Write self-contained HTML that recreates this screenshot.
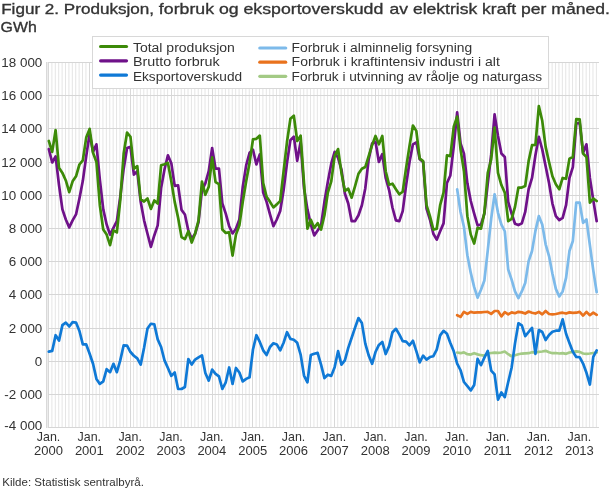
<!DOCTYPE html>
<html><head><meta charset="utf-8"><title>Figur 2</title>
<style>
html,body{margin:0;padding:0;background:#fff;}
body{width:610px;height:488px;position:relative;overflow:hidden;font-family:"Liberation Sans",sans-serif;}
.t{position:absolute;left:2px;top:0px;font-size:17.2px;line-height:18px;font-weight:bold;color:#333;white-space:nowrap;letter-spacing:-0.35px;}
.f{position:absolute;left:3px;top:472px;font-size:11.6px;color:#333;white-space:nowrap;}
svg text{font-family:"Liberation Sans",sans-serif;fill:#333;}
.lg{font-size:12.3px;}
.ax{font-size:13px;}
.ay{font-size:13.4px;}
.ti{font-size:14.5px;font-weight:normal;stroke:#333;stroke-width:0.32px;}
.ft{font-size:11px;}
</style></head><body>
<svg width="610" height="488" viewBox="0 0 610 488" style="position:absolute;left:0;top:0;will-change:transform"><path d="M51.90 62V428M55.31 62V428M58.71 62V428M62.11 62V428M65.52 62V428M68.92 62V428M72.32 62V428M75.72 62V428M79.13 62V428M82.53 62V428M85.93 62V428M92.74 62V428M96.14 62V428M99.55 62V428M102.95 62V428M106.35 62V428M109.75 62V428M113.16 62V428M116.56 62V428M119.96 62V428M123.37 62V428M126.77 62V428M133.57 62V428M136.98 62V428M140.38 62V428M143.78 62V428M147.19 62V428M150.59 62V428M153.99 62V428M157.40 62V428M160.80 62V428M164.20 62V428M167.60 62V428M174.41 62V428M177.81 62V428M181.22 62V428M184.62 62V428M188.02 62V428M191.43 62V428M194.83 62V428M198.23 62V428M201.63 62V428M205.04 62V428M208.44 62V428M215.25 62V428M218.65 62V428M222.05 62V428M225.46 62V428M228.86 62V428M232.26 62V428M235.66 62V428M239.07 62V428M242.47 62V428M245.87 62V428M249.28 62V428M256.08 62V428M259.49 62V428M262.89 62V428M266.29 62V428M269.69 62V428M273.10 62V428M276.50 62V428M279.90 62V428M283.31 62V428M286.71 62V428M290.11 62V428M296.92 62V428M300.32 62V428M303.72 62V428M307.13 62V428M310.53 62V428M313.93 62V428M317.34 62V428M320.74 62V428M324.14 62V428M327.55 62V428M330.95 62V428M337.75 62V428M341.16 62V428M344.56 62V428M347.96 62V428M351.37 62V428M354.77 62V428M358.17 62V428M361.58 62V428M364.98 62V428M368.38 62V428M371.79 62V428M378.59 62V428M381.99 62V428M385.40 62V428M388.80 62V428M392.20 62V428M395.61 62V428M399.01 62V428M402.41 62V428M405.81 62V428M409.22 62V428M412.62 62V428M419.43 62V428M422.83 62V428M426.23 62V428M429.64 62V428M433.04 62V428M436.44 62V428M439.85 62V428M443.25 62V428M446.65 62V428M450.05 62V428M453.46 62V428M460.26 62V428M463.67 62V428M467.07 62V428M470.47 62V428M473.88 62V428M477.28 62V428M480.68 62V428M484.08 62V428M487.49 62V428M490.89 62V428M494.29 62V428M501.10 62V428M504.50 62V428M507.91 62V428M511.31 62V428M514.71 62V428M518.11 62V428M521.52 62V428M524.92 62V428M528.32 62V428M531.73 62V428M535.13 62V428M541.94 62V428M545.34 62V428M548.74 62V428M552.14 62V428M555.55 62V428M558.95 62V428M562.35 62V428M565.76 62V428M569.16 62V428M572.56 62V428M575.97 62V428M582.77 62V428M586.17 62V428M589.58 62V428M592.98 62V428M596.38 62V428" stroke="#e5e5e5" stroke-width="1" fill="none"/><path d="M48.5 62V428M89.5 62V428M130.5 62V428M171.5 62V428M212.5 62V428M252.5 62V428M293.5 62V428M334.5 62V428M375.5 62V428M416.5 62V428M457.5 62V428M497.5 62V428M538.5 62V428M579.5 62V428" stroke="#d8d8d8" stroke-width="1" fill="none" shape-rendering="crispEdges"/><path d="M46 62.5H599.0M46 95.5H599.0M46 128.5H599.0M46 162.5H599.0M46 195.5H599.0M46 228.5H599.0M46 261.5H599.0M46 294.5H599.0M46 328.5H599.0M46 361.5H599.0M46 394.5H599.0M46 427.5H599.0" stroke="#d6d6d6" stroke-width="1" fill="none" shape-rendering="crispEdges"/><path d="M46.5 62V428" stroke="#d9d9d9" stroke-width="1" fill="none" shape-rendering="crispEdges"/><path d="M47.5 62V428" stroke="#ececec" stroke-width="1" fill="none" shape-rendering="crispEdges"/><path d="M457.16 352.52 L460.56 353.19 L463.97 352.35 L467.37 354.2 L470.77 354.54 L474.18 353.19 L477.58 354.37 L480.98 355.21 L484.38 355.55 L487.79 353.53 L491.19 353.03 L494.59 352.69 L498.0 352.86 L501.4 352.52 L504.8 351.51 L508.21 354.2 L511.61 356.22 L515.01 355.21 L518.41 354.2 L521.82 353.53 L525.22 353.36 L528.62 353.19 L532.03 352.18 L535.43 352.52 L538.83 351.85 L542.24 351.51 L545.64 350.84 L549.04 352.18 L552.44 353.19 L555.85 353.03 L559.25 353.53 L562.65 353.19 L566.06 353.87 L569.46 352.52 L572.86 351.85 L576.26 351.34 L579.67 351.85 L583.07 353.53 L586.47 353.87 L589.88 353.53 L593.28 353.03 L596.68 352.52" stroke="#a3ca85" stroke-width="2.7" fill="none" stroke-linejoin="round" stroke-linecap="round"/><path d="M457.16 315.21 L460.56 316.89 L463.97 311.85 L467.37 313.87 L470.77 311.85 L474.18 312.69 L477.58 312.35 L480.98 312.35 L484.38 312.02 L487.79 311.85 L491.19 313.87 L494.59 311.01 L498.0 311.01 L501.4 316.39 L504.8 312.18 L508.21 314.37 L511.61 312.35 L515.01 313.19 L518.41 311.85 L521.82 312.35 L525.22 313.53 L528.62 311.51 L532.03 312.69 L535.43 313.53 L538.83 311.85 L542.24 314.37 L545.64 311.01 L549.04 314.03 L552.44 314.37 L555.85 314.03 L559.25 313.19 L562.65 312.69 L566.06 313.53 L569.46 312.35 L572.86 312.86 L576.26 312.69 L579.67 311.85 L583.07 315.55 L586.47 311.85 L589.88 315.21 L593.28 312.69 L596.68 314.87" stroke="#e9721d" stroke-width="2.7" fill="none" stroke-linejoin="round" stroke-linecap="round"/><path d="M457.16 189.24 L460.56 211.93 L463.97 227.06 L467.37 255.25 L470.77 272.9 L474.18 287.18 L477.58 297.61 L480.98 289.71 L484.38 280.46 L487.79 250.21 L491.19 218.66 L494.59 194.29 L498.0 212.77 L501.4 224.54 L504.8 231.26 L508.21 269.54 L511.61 279.62 L515.01 291.39 L518.41 298.11 L521.82 291.39 L525.22 282.98 L528.62 261.13 L532.03 251.05 L535.43 230.88 L538.83 216.13 L542.24 224.54 L545.64 244.33 L549.04 256.09 L552.44 273.74 L555.85 288.87 L559.25 296.43 L562.65 291.39 L566.06 277.94 L569.46 251.05 L572.86 240.97 L576.26 202.69 L579.67 202.69 L583.07 222.86 L586.47 219.5 L589.88 245.17 L593.28 270.38 L596.68 292.23" stroke="#7dbaea" stroke-width="2.7" fill="none" stroke-linejoin="round" stroke-linecap="round"/><path d="M48.8 351.68 L52.2 350.84 L55.61 335.21 L59.01 340.59 L62.41 325.13 L65.81 322.61 L69.22 326.47 L72.62 322.1 L76.02 322.61 L79.43 331.01 L82.83 344.45 L86.23 344.45 L89.64 353.7 L93.04 363.78 L96.44 378.91 L99.84 383.95 L103.25 381.43 L106.65 369.16 L110.05 372.18 L113.46 363.78 L116.86 372.18 L120.26 360.42 L123.67 345.29 L127.07 345.63 L130.47 352.02 L133.88 355.71 L137.28 358.4 L140.68 364.62 L144.08 347.82 L147.49 328.49 L150.89 323.78 L154.29 324.29 L157.7 339.41 L161.1 346.97 L164.5 360.42 L167.91 367.98 L171.31 375.88 L174.71 372.52 L178.11 388.99 L181.52 388.99 L184.92 386.97 L188.32 359.08 L191.73 364.62 L195.13 359.58 L198.53 357.39 L201.94 355.38 L205.34 373.03 L208.74 380.59 L212.14 369.66 L215.55 373.87 L218.95 376.39 L222.35 388.99 L225.76 382.27 L229.16 367.48 L232.56 383.95 L235.96 367.98 L239.37 372.52 L242.77 381.43 L246.17 378.91 L249.58 377.23 L252.98 349.5 L256.38 335.21 L259.79 341.93 L263.19 350.34 L266.59 355.04 L270.0 346.97 L273.4 343.28 L276.8 344.45 L280.2 350.34 L283.61 342.77 L287.01 332.18 L290.41 338.91 L293.82 339.75 L297.22 342.77 L300.62 354.54 L304.02 375.55 L307.43 382.27 L310.83 355.04 L314.23 353.7 L317.64 352.86 L321.04 364.62 L324.44 378.07 L327.85 374.71 L331.25 375.88 L334.65 367.14 L338.06 351.18 L341.46 364.62 L344.86 360.42 L348.26 347.82 L351.67 337.73 L355.07 327.65 L358.47 318.07 L361.88 323.11 L365.28 343.61 L368.68 355.38 L372.09 363.78 L375.49 352.02 L378.89 344.96 L382.29 341.93 L385.7 354.03 L389.1 346.13 L392.5 332.18 L395.91 328.82 L399.31 334.37 L402.71 341.09 L406.12 341.6 L409.52 345.29 L412.92 340.76 L416.32 351.18 L419.73 362.44 L423.13 355.71 L426.53 359.58 L429.94 357.06 L433.34 356.22 L436.74 349.66 L440.15 335.38 L443.55 330.84 L446.95 333.7 L450.35 342.94 L453.76 351.34 L457.16 363.53 L460.56 370.25 L463.97 382.02 L467.37 386.22 L470.77 390.42 L474.18 385.04 L477.58 358.82 L480.98 365.21 L484.38 357.65 L487.79 350.92 L491.19 370.59 L494.59 374.45 L498.0 399.66 L501.4 392.44 L504.8 397.14 L508.21 382.02 L511.61 367.73 L515.01 343.36 L518.41 323.28 L521.82 325.29 L525.22 336.22 L528.62 332.02 L532.03 327.82 L535.43 353.87 L538.83 330.0 L542.24 332.02 L545.64 340.08 L549.04 335.04 L552.44 331.68 L555.85 330.67 L559.25 330.67 L562.65 319.41 L566.06 333.7 L569.46 342.94 L572.86 351.85 L576.26 356.89 L579.67 357.23 L583.07 363.53 L586.47 372.77 L589.88 384.54 L593.28 356.81 L596.68 350.42" stroke="#0f79d6" stroke-width="2.7" fill="none" stroke-linejoin="round" stroke-linecap="round"/><path d="M48.8 149.04 L52.2 162.49 L55.61 156.44 L59.01 185.04 L62.41 209.41 L65.81 219.5 L69.22 227.39 L72.62 220.34 L76.02 214.45 L79.43 198.49 L82.83 180.84 L86.23 156.1 L89.64 133.41 L93.04 151.9 L96.44 144.34 L99.84 179.63 L103.25 209.41 L106.65 224.54 L110.05 234.62 L113.46 227.9 L116.86 221.18 L120.26 196.81 L123.67 168.71 L127.07 148.03 L130.47 146.86 L133.88 174.59 L137.28 171.23 L140.68 201.85 L144.08 220.34 L147.49 233.78 L150.89 246.89 L154.29 235.46 L157.7 225.38 L161.1 188.07 L164.5 169.55 L167.91 155.26 L171.31 163.16 L174.71 185.88 L178.11 185.38 L181.52 209.92 L184.92 214.45 L188.32 230.42 L191.73 238.82 L195.13 233.78 L198.53 222.02 L201.94 190.08 L205.34 183.36 L208.74 171.23 L212.14 148.03 L215.55 168.71 L218.95 168.71 L222.35 203.53 L225.76 213.61 L229.16 226.22 L232.56 233.45 L235.96 228.74 L239.37 219.5 L242.77 186.72 L246.17 165.34 L249.58 152.74 L252.98 149.71 L256.38 164.5 L259.79 154.42 L263.19 192.61 L266.59 201.85 L270.0 214.45 L273.4 226.22 L276.8 219.5 L280.2 211.09 L283.61 190.08 L287.01 162.82 L290.41 140.13 L293.82 136.77 L297.22 160.81 L300.62 141.82 L304.02 188.4 L307.43 209.41 L310.83 224.54 L314.23 235.46 L317.64 230.42 L321.04 225.38 L324.44 201.85 L327.85 181.68 L331.25 163.66 L334.65 151.9 L338.06 157.78 L341.46 169.55 L344.86 193.45 L348.26 203.53 L351.67 221.18 L355.07 221.18 L358.47 215.29 L361.88 205.21 L365.28 188.4 L368.68 159.46 L372.09 143.5 L375.49 141.82 L378.89 161.98 L382.29 154.08 L385.7 177.95 L389.1 190.08 L392.5 207.73 L395.91 220.34 L399.31 221.18 L402.71 211.09 L406.12 185.04 L409.52 161.98 L412.92 144.34 L416.32 142.32 L419.73 159.13 L423.13 161.82 L426.53 208.57 L429.94 219.5 L433.34 233.78 L436.74 239.66 L440.15 231.26 L443.55 223.36 L446.95 182.99 L450.35 175.43 L453.76 146.02 L457.16 112.4 L460.56 143.5 L463.97 153.58 L467.37 183.36 L470.77 201.01 L474.18 213.61 L477.58 225.38 L480.98 224.54 L484.38 213.61 L487.79 183.36 L491.19 154.42 L494.59 114.42 L498.0 135.93 L501.4 153.58 L504.8 156.94 L508.21 201.85 L511.61 213.61 L515.01 223.7 L518.41 225.04 L521.82 223.36 L525.22 211.93 L528.62 189.24 L532.03 177.95 L535.43 155.26 L538.83 136.77 L542.24 149.38 L545.64 166.18 L549.04 182.99 L552.44 203.53 L555.85 216.13 L559.25 220.0 L562.65 217.82 L566.06 205.21 L569.46 177.95 L572.86 167.03 L576.26 123.83 L579.67 122.82 L583.07 152.74 L586.47 144.34 L589.88 177.95 L593.28 200.17 L596.68 221.18" stroke="#6f1189" stroke-width="2.7" fill="none" stroke-linejoin="round" stroke-linecap="round"/><path d="M48.8 140.97 L52.2 151.9 L55.61 130.05 L59.01 167.87 L62.41 172.91 L65.81 180.47 L69.22 192.1 L72.62 181.31 L76.02 176.27 L79.43 164.5 L82.83 160.3 L86.23 137.61 L89.64 128.87 L93.04 152.74 L96.44 161.98 L99.84 205.21 L103.25 229.58 L106.65 234.62 L110.05 245.21 L113.46 230.42 L116.86 232.44 L120.26 200.17 L123.67 153.58 L127.07 132.57 L130.47 136.77 L133.88 168.71 L137.28 166.18 L140.68 199.33 L144.08 201.51 L147.49 198.49 L150.89 208.91 L154.29 200.5 L157.7 203.53 L161.1 165.34 L164.5 164.17 L167.91 162.82 L171.31 181.34 L174.71 201.85 L178.11 217.82 L181.52 237.14 L184.92 239.16 L188.32 231.26 L191.73 242.52 L195.13 233.45 L198.53 220.34 L201.94 181.68 L205.34 194.79 L208.74 186.72 L212.14 157.45 L215.55 182.18 L218.95 184.2 L222.35 229.58 L225.76 232.94 L229.16 232.44 L232.56 255.63 L235.96 234.62 L239.37 225.38 L242.77 201.85 L246.17 181.31 L249.58 162.82 L252.98 139.29 L256.38 138.79 L259.79 135.6 L263.19 183.03 L266.59 196.81 L270.0 201.85 L273.4 207.39 L276.8 204.37 L280.2 201.01 L283.61 171.23 L287.01 141.82 L290.41 118.79 L293.82 115.76 L297.22 140.97 L300.62 135.6 L304.02 183.03 L307.43 228.74 L310.83 219.83 L314.23 227.9 L317.64 223.19 L321.04 229.58 L324.44 215.29 L327.85 192.61 L331.25 181.31 L334.65 156.1 L338.06 149.04 L341.46 172.91 L344.86 190.92 L348.26 188.74 L351.67 197.65 L355.07 186.05 L358.47 173.75 L361.88 168.71 L365.28 167.03 L368.68 156.1 L372.09 145.18 L375.49 135.93 L378.89 144.34 L382.29 135.93 L385.7 171.23 L389.1 184.71 L392.5 183.7 L395.91 189.24 L399.31 194.29 L402.71 191.76 L406.12 167.87 L409.52 146.02 L412.92 125.51 L416.32 130.89 L419.73 158.62 L423.13 161.14 L426.53 205.21 L429.94 216.13 L433.34 229.58 L436.74 228.74 L440.15 205.21 L443.55 192.61 L446.95 155.26 L450.35 156.1 L453.76 126.69 L457.16 116.61 L460.56 149.38 L463.97 171.23 L467.37 216.13 L470.77 234.62 L474.18 243.53 L477.58 227.9 L480.98 228.74 L484.38 212.77 L487.79 172.91 L491.19 159.46 L494.59 127.53 L498.0 172.91 L501.4 185.04 L504.8 192.61 L508.21 221.18 L511.61 218.99 L515.01 206.89 L518.41 187.56 L521.82 187.56 L525.22 186.05 L528.62 161.14 L532.03 145.18 L535.43 144.84 L538.83 106.02 L542.24 120.81 L545.64 146.86 L549.04 161.98 L552.44 176.27 L555.85 184.2 L559.25 189.24 L562.65 177.95 L566.06 178.79 L569.46 158.62 L572.86 156.94 L576.26 119.13 L579.67 119.46 L583.07 153.58 L586.47 156.94 L589.88 202.69 L593.28 198.49 L596.68 201.01" stroke="#3c8a08" stroke-width="2.7" fill="none" stroke-linejoin="round" stroke-linecap="round"/><rect x="92.5" y="36.5" width="456" height="52" fill="#ffffff" stroke="#d8d8d8" stroke-width="1"/><path d="M100.6 46.5H126.5" stroke="#3c8a08" stroke-width="3.2" stroke-linecap="round"/><text x="132.9" y="52.10" class="lg" textLength="102.0" lengthAdjust="spacingAndGlyphs">Total produksjon</text><path d="M100.6 60.8H126.5" stroke="#6f1189" stroke-width="3.2" stroke-linecap="round"/><text x="132.9" y="66.35" class="lg" textLength="86.8" lengthAdjust="spacingAndGlyphs">Brutto forbruk</text><path d="M100.6 75.1H126.5" stroke="#0f79d6" stroke-width="3.2" stroke-linecap="round"/><text x="132.9" y="80.60" class="lg" textLength="109.2" lengthAdjust="spacingAndGlyphs">Eksportoverskudd</text><path d="M259.79999999999995 48.0H285.69999999999993" stroke="#7dbaea" stroke-width="3.2" stroke-linecap="round"/><text x="291.6" y="52.10" class="lg" textLength="180.6" lengthAdjust="spacingAndGlyphs">Forbruk i alminnelig forsyning</text><path d="M259.79999999999995 62.15H285.69999999999993" stroke="#e9721d" stroke-width="3.2" stroke-linecap="round"/><text x="291.6" y="66.35" class="lg" textLength="208.2" lengthAdjust="spacingAndGlyphs">Forbruk i kraftintensiv industri i alt</text><path d="M259.79999999999995 76.3H285.69999999999993" stroke="#a3ca85" stroke-width="3.2" stroke-linecap="round"/><text x="291.6" y="80.60" class="lg" textLength="250.5" lengthAdjust="spacingAndGlyphs">Forbruk i utvinning av råolje og naturgass</text><text x="42.3" y="67.40" text-anchor="end" class="ay">18 000</text><text x="42.3" y="100.40" text-anchor="end" class="ay">16 000</text><text x="42.3" y="133.40" text-anchor="end" class="ay">14 000</text><text x="42.3" y="167.40" text-anchor="end" class="ay">12 000</text><text x="42.3" y="200.40" text-anchor="end" class="ay">10 000</text><text x="42.3" y="233.40" text-anchor="end" class="ay">8 000</text><text x="42.3" y="266.40" text-anchor="end" class="ay">6 000</text><text x="42.3" y="299.40" text-anchor="end" class="ay">4 000</text><text x="42.3" y="333.40" text-anchor="end" class="ay">2 000</text><text x="42.3" y="366.40" text-anchor="end" class="ay">0</text><text x="42.3" y="399.40" text-anchor="end" class="ay">-2 000</text><text x="42.3" y="430.30" text-anchor="end" class="ay">-4 000</text><text x="48.50" y="441.2" text-anchor="middle" class="ax" textLength="23.5" lengthAdjust="spacingAndGlyphs">Jan.</text><text x="48.50" y="455.4" text-anchor="middle" class="ax">2000</text><text x="89.34" y="441.2" text-anchor="middle" class="ax" textLength="23.5" lengthAdjust="spacingAndGlyphs">Jan.</text><text x="89.34" y="455.4" text-anchor="middle" class="ax">2001</text><text x="130.17" y="441.2" text-anchor="middle" class="ax" textLength="23.5" lengthAdjust="spacingAndGlyphs">Jan.</text><text x="130.17" y="455.4" text-anchor="middle" class="ax">2002</text><text x="171.01" y="441.2" text-anchor="middle" class="ax" textLength="23.5" lengthAdjust="spacingAndGlyphs">Jan.</text><text x="171.01" y="455.4" text-anchor="middle" class="ax">2003</text><text x="211.84" y="441.2" text-anchor="middle" class="ax" textLength="23.5" lengthAdjust="spacingAndGlyphs">Jan.</text><text x="211.84" y="455.4" text-anchor="middle" class="ax">2004</text><text x="252.68" y="441.2" text-anchor="middle" class="ax" textLength="23.5" lengthAdjust="spacingAndGlyphs">Jan.</text><text x="252.68" y="455.4" text-anchor="middle" class="ax">2005</text><text x="293.52" y="441.2" text-anchor="middle" class="ax" textLength="23.5" lengthAdjust="spacingAndGlyphs">Jan.</text><text x="293.52" y="455.4" text-anchor="middle" class="ax">2006</text><text x="334.35" y="441.2" text-anchor="middle" class="ax" textLength="23.5" lengthAdjust="spacingAndGlyphs">Jan.</text><text x="334.35" y="455.4" text-anchor="middle" class="ax">2007</text><text x="375.19" y="441.2" text-anchor="middle" class="ax" textLength="23.5" lengthAdjust="spacingAndGlyphs">Jan.</text><text x="375.19" y="455.4" text-anchor="middle" class="ax">2008</text><text x="416.02" y="441.2" text-anchor="middle" class="ax" textLength="23.5" lengthAdjust="spacingAndGlyphs">Jan.</text><text x="416.02" y="455.4" text-anchor="middle" class="ax">2009</text><text x="456.86" y="441.2" text-anchor="middle" class="ax" textLength="23.5" lengthAdjust="spacingAndGlyphs">Jan.</text><text x="456.86" y="455.4" text-anchor="middle" class="ax">2010</text><text x="497.70" y="441.2" text-anchor="middle" class="ax" textLength="23.5" lengthAdjust="spacingAndGlyphs">Jan.</text><text x="497.70" y="455.4" text-anchor="middle" class="ax">2011</text><text x="538.53" y="441.2" text-anchor="middle" class="ax" textLength="23.5" lengthAdjust="spacingAndGlyphs">Jan.</text><text x="538.53" y="455.4" text-anchor="middle" class="ax">2012</text><text x="579.37" y="441.2" text-anchor="middle" class="ax" textLength="23.5" lengthAdjust="spacingAndGlyphs">Jan.</text><text x="579.37" y="455.4" text-anchor="middle" class="ax">2013</text><text x="1.20" y="13.5" class="ti" textLength="152.94" lengthAdjust="spacingAndGlyphs">Figur 2. Produksjon,</text><text x="158.88" y="13.5" class="ti" textLength="224.42" lengthAdjust="spacingAndGlyphs">forbruk og eksportoverskudd</text><text x="389.50" y="13.5" class="ti" textLength="220.30" lengthAdjust="spacingAndGlyphs">av elektrisk kraft per måned.</text><text x="0.6" y="31.5" class="ti" textLength="36.2" lengthAdjust="spacingAndGlyphs">GWh</text><text x="2.3" y="485.6" class="ft" textLength="141.6" lengthAdjust="spacingAndGlyphs">Kilde: Statistisk sentralbyrå.</text></svg>
</body></html>
